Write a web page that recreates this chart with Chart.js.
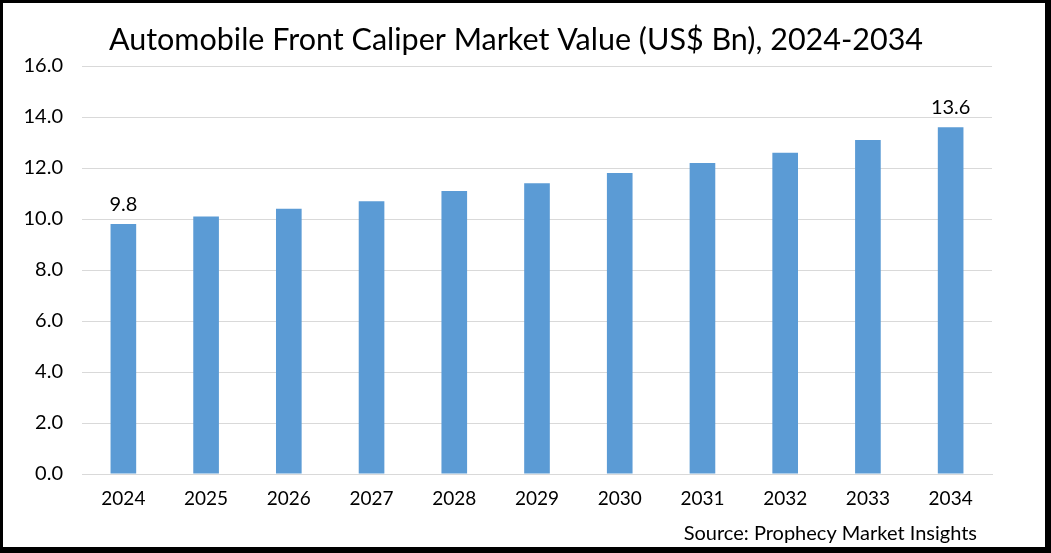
<!DOCTYPE html>
<html lang="en">
<head>
  <meta charset="UTF-8">
  <title>Automobile Front Caliper Market Value</title>
  <script src="https://cdn.jsdelivr.net/npm/chart.js"></script>
  <style>
    html, body { margin: 0; padding: 0; background: #fff; }
    .frame {
      width: 1051px; height: 553px; box-sizing: border-box;
      border-style: solid; border-color: #000;
      border-width: 3px 6px 6px 3px;
      background: #fff;
    }
    .frame canvas { display: block; }
  </style>
</head>
<body>
  <div class="frame">
    <canvas id="chart" width="1042" height="544"></canvas>
  </div>

  <script>
    const years = ['2024', '2025', '2026', '2027', '2028', '2029', '2030', '2031', '2032', '2033', '2034'];
    const marketValue = [9.8, 10.1, 10.4, 10.7, 11.1, 11.4, 11.8, 12.2, 12.6, 13.1, 13.6];
    const labelledBars = [0, 10]; // only first and last bars carry a value label
    const titleText = 'Automobile Front Caliper Market Value (US$ Bn), 2024-2034';
    const sourceText = 'Source: Prophecy Market Insights';

    const FONT = 'Lato, "Open Sans", sans-serif';

    // title (centred a bit right of the plot, like the original), value labels, source note
    const extras = {
      id: 'extras',
      afterDatasetsDraw(chart) {
        const ctx = chart.ctx;
        const meta = chart.getDatasetMeta(0);
        ctx.save();
        ctx.fillStyle = '#000';

        ctx.font = '30.5px ' + FONT;
        ctx.textAlign = 'center';
        ctx.textBaseline = 'middle';
        ctx.fillText(titleText, 513, 37);

        ctx.font = '20px ' + FONT;
        ctx.textBaseline = 'bottom';
        labelledBars.forEach(i => {
          const bar = meta.data[i];
          ctx.fillText(marketValue[i].toFixed(1), bar.x, bar.y - 10);
        });

        ctx.textAlign = 'right';
        ctx.textBaseline = 'middle';
        ctx.fillText(sourceText, chart.chartArea.right - 15, 531);
        ctx.restore();
      }
    };

    new Chart(document.getElementById('chart'), {
      type: 'bar',
      data: {
        labels: years,
        datasets: [{
          data: marketValue,
          backgroundColor: '#5b9bd5',
          barPercentage: 0.62,
          categoryPercentage: 0.5
        }]
      },
      options: {
        responsive: false,
        animation: false,
        layout: { padding: { top: 63, right: 53, bottom: 0, left: 0 } },
        plugins: {
          legend: { display: false },
          tooltip: { enabled: false },
          title: { display: false }
        },
        scales: {
          x: {
            grid: { display: false, drawTicks: false },
            border: { color: '#d9d9d9' },
            ticks: { color: '#000', font: { family: FONT, size: 19 }, padding: 13 },
            afterFit(s) { s.height = 73; }
          },
          y: {
            min: 0,
            max: 16,
            grid: { color: '#d9d9d9', drawTicks: false },
            border: { display: false },
            ticks: {
              stepSize: 2,
              color: '#000',
              font: { family: FONT, size: 20 },
              padding: 19,
              callback: v => v.toFixed(1)
            },
            afterFit(s) { s.width = 79; }
          }
        }
      },
      plugins: [extras]
    });
  </script>
</body>
</html>
